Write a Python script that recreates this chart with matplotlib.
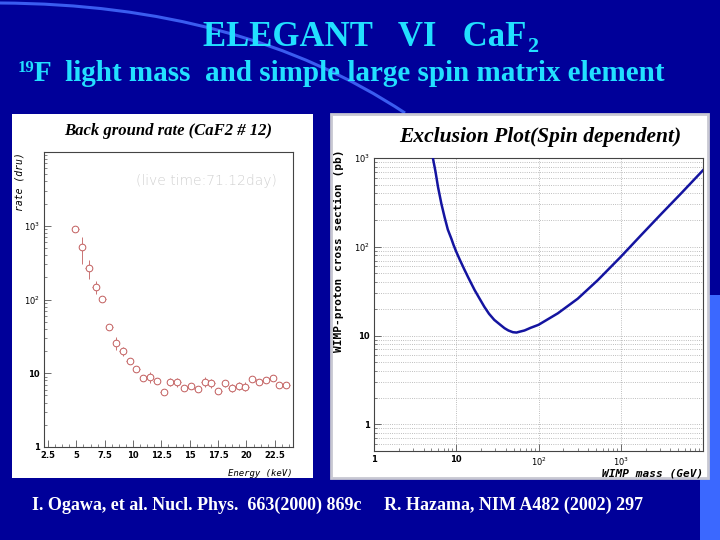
import numpy as np
import matplotlib
matplotlib.use('Agg')
import matplotlib.pyplot as plt
from matplotlib.patches import Rectangle, Polygon, PathPatch
from matplotlib.path import Path
from matplotlib.ticker import FixedLocator, NullFormatter, LogLocator, MultipleLocator

# background rate, CaF2 #12 (left panel)
energy = [4.9, 5.5, 6.1, 6.7, 7.3, 7.9, 8.5, 9.1, 9.7, 10.3, 10.9, 11.5, 12.1, 12.7,
          13.3, 13.9, 14.5, 15.1, 15.7, 16.3, 16.9, 17.5, 18.1, 18.7, 19.3, 19.9,
          20.5, 21.1, 21.7, 22.3, 22.9, 23.5]
rate = [890, 510, 265, 148, 103, 42, 26, 20, 14.7, 11.3, 8.7, 8.9, 7.8, 5.6,
        7.6, 7.6, 6.3, 6.7, 6.2, 7.7, 7.3, 5.8, 7.3, 6.4, 6.7, 6.6,
        8.3, 7.6, 8.1, 8.7, 6.9, 6.9]
rel_err = [0.05, 0.4, 0.28, 0.2, 0.05, 0.08, 0.2, 0.15, 0.08, 0.08, 0.1, 0.18, 0.08, 0.06,
           0.12, 0.15, 0.1, 0.1, 0.08, 0.15, 0.14, 0.1, 0.1, 0.12, 0.12, 0.14,
           0.08, 0.1, 0.1, 0.08, 0.08, 0.08]
bin_half = 0.3

# exclusion curve, spin dependent (right panel)
wimp_mass = [5.2, 5.6, 6.0, 6.6, 7.2, 7.9, 8.7, 9.3, 10, 11, 12.6, 14, 16.7, 19, 22, 25,
             29, 34, 38.6, 43, 48.8, 54, 58, 67.6, 80, 100,
             172, 300, 525, 1000, 1766, 3090, 5400, 10000]
xsec = [1000, 697, 472, 304, 217, 156, 124, 104, 88, 72, 55, 45, 32.6, 26.5, 21, 17.6,
        15, 13.3, 12.1, 11.4, 10.9, 10.8, 11.0, 11.4, 12.2, 13.2,
        17.8, 26, 42, 77, 135, 233, 398, 728]

W, H = 720, 540
SLIDE = '#000099'
CYAN = '#22e0ff'

def fx(px):
    return px / W

def fy(py):
    return 1 - py / H

fig = plt.figure(figsize=(7.2, 5.4), dpi=100)
fig.patch.set_facecolor(SLIDE)

# decorative arc across the top
verts = [(fx(0), fy(3)), (fx(240), fy(4)), (fx(405), fy(113))]
arc = PathPatch(Path(verts, [Path.MOVETO, Path.CURVE3, Path.CURVE3]),
                fc='none', ec='#3a5cf0', lw=2.2, transform=fig.transFigure, zorder=-2)
fig.patches.append(arc)

# light blue block at bottom right
blk = Polygon([(fx(706), fy(295)), (fx(720), fy(295)), (fx(720), fy(540)),
               (fx(700), fy(540)), (fx(700), fy(478)), (fx(706), fy(478))],
              closed=True, fc='#3b68ff', ec='none', transform=fig.transFigure, zorder=-2)
fig.patches.append(blk)

# white panels
fig.patches.append(Rectangle((fx(12), fy(478)), fx(301), 364 / H, fc='white', ec='none',
                             transform=fig.transFigure, zorder=-1))
fig.patches.append(Rectangle((fx(331), fy(478)), fx(377), 364 / H, fc='white', ec='#c8c8d2',
                             lw=2, transform=fig.transFigure, zorder=-1))

# titles
t1 = fig.text(fx(203), fy(46), 'ELEGANT   VI   CaF', color=CYAN, fontsize=25,
              fontweight='bold', family='Liberation Serif', ha='left', va='baseline')
fig.canvas.draw()
bb = t1.get_window_extent()
fig.text(bb.x1 / W + 0.001, fy(52), '2', color=CYAN, fontsize=16, fontweight='bold',
         family='Liberation Serif', ha='left', va='baseline')
fig.text(fx(18), fy(72), '19', color=CYAN, fontsize=12, fontweight='bold',
         family='Liberation Serif', ha='left', va='baseline')
fig.text(fx(34), fy(81), 'F  light mass  and simple large spin matrix element', color=CYAN,
         fontsize=21, fontweight='bold', family='Liberation Serif', ha='left', va='baseline')

# citations
fig.text(fx(32), fy(505), 'I. Ogawa, et al. Nucl. Phys.  663(2000) 869c', color='white',
         fontsize=13, family='Liberation Serif', fontweight='bold', ha='left', va='center')
fig.text(fx(384), fy(505), 'R. Hazama, NIM A482 (2002) 297', color='white',
         fontsize=13, family='Liberation Serif', fontweight='bold', ha='left', va='center')

tick_font = {'family': 'DejaVu Sans', 'size': 6, 'weight': 'bold'}
decade_labels = ['1', '10', '$10^2$', '$10^3$']

# ---------------- left: background rate ----------------
ax1 = fig.add_axes([fx(44), fy(447), fx(249), 295 / H])
ax1.set_facecolor('white')
col = '#c25e5e'
r = np.array(rate)
e = np.array(rel_err)
ax1.errorbar(energy, rate, yerr=[r * e, r * e], xerr=bin_half, fmt='o', ms=4.8,
             mfc='white', mec=col, mew=0.7, ecolor=col, elinewidth=0.6, capsize=0)
ax1.set_yscale('log')
ax1.set_xlim(2.15, 24.1)
ax1.set_ylim(1, 1e4)
ax1.yaxis.set_major_locator(FixedLocator([1, 10, 100, 1000]))
ax1.set_yticklabels(decade_labels, fontdict=tick_font)
ax1.yaxis.set_minor_locator(LogLocator(base=10, subs=np.arange(2, 10), numticks=20))
ax1.yaxis.set_minor_formatter(NullFormatter())
ax1.xaxis.set_minor_locator(MultipleLocator(0.625))
ax1.set_xticks([2.5, 5, 7.5, 10, 12.5, 15, 17.5, 20, 22.5])
ax1.set_xticklabels(['2.5', '5', '7.5', '10', '12.5', '15', '17.5', '20', '22.5'],
                    fontdict=tick_font)
ax1.tick_params(which='both', direction='in', top=False, right=False, color='#555555')
ax1.tick_params(which='major', length=5, width=0.6, pad=3)
ax1.tick_params(which='minor', length=2.5, width=0.5)
for s in ax1.spines.values():
    s.set_linewidth(0.8)
    s.set_color('#444444')
fig.text(fx(19), fy(152), 'rate (dru)', rotation=90, ha='center', va='top', fontsize=7,
         family='DejaVu Sans Mono', style='oblique')
ax1.text(1.0, -0.075, 'Energy (keV)', transform=ax1.transAxes, ha='right', va='top',
         fontsize=6.5, family='DejaVu Sans Mono', style='oblique')
ax1.text(0.37, 0.9, '(live time:71.12day)', transform=ax1.transAxes, ha='left', va='center',
         fontsize=10, color='#cfcfcf', family='DejaVu Sans', fontweight='light')
fig.text(fx(168), fy(131), 'Back ground rate (CaF2 # 12)', ha='center', va='center',
         fontsize=12, family='Liberation Serif', style='italic', fontweight='bold')

# ---------------- right: exclusion plot ----------------
ax2 = fig.add_axes([fx(374), fy(451), fx(329), 293 / H])
ax2.set_facecolor('white')
ax2.plot(wimp_mass, xsec, color='#1414a0', lw=1.8, zorder=3)
ax2.set_xscale('log')
ax2.set_yscale('log')
ax2.set_xlim(1, 1e4)
ax2.set_ylim(0.5, 1000)
ax2.xaxis.set_major_locator(FixedLocator([1, 10, 100, 1000]))
ax2.set_xticklabels(decade_labels, fontdict=tick_font)
ax2.yaxis.set_major_locator(FixedLocator([1, 10, 100, 1000]))
ax2.set_yticklabels(decade_labels, fontdict=tick_font)
for a in (ax2.xaxis, ax2.yaxis):
    a.set_minor_locator(LogLocator(base=10, subs=np.arange(2, 10), numticks=20))
    a.set_minor_formatter(NullFormatter())
ax2.yaxis.grid(True, which='both', linestyle=':', color='#a8a8a8', lw=0.6)
ax2.xaxis.grid(True, which='major', linestyle=':', color='#a8a8a8', lw=0.6)
ax2.tick_params(which='both', direction='in', top=False, right=False, color='#555555')
ax2.tick_params(which='major', length=5, width=0.6, pad=3)
ax2.tick_params(which='minor', length=2.5, width=0.5)
for s in ax2.spines.values():
    s.set_linewidth(0.8)
    s.set_color('#444444')
fig.text(fx(339), fy(150), 'WIMP-proton cross section (pb)', rotation=90, ha='center',
         va='top', fontsize=8, family='DejaVu Sans Mono', fontweight='bold')
ax2.text(1.0, -0.06, 'WIMP mass (GeV)', transform=ax2.transAxes, ha='right', va='top',
         fontsize=8, family='DejaVu Sans Mono', style='oblique', fontweight='bold')
fig.text(fx(540), fy(137), 'Exclusion Plot(Spin dependent)', ha='center', va='center',
         fontsize=15.5, family='Liberation Serif', style='italic', fontweight='bold')

fig.savefig('out.png', dpi=100, facecolor=SLIDE)
